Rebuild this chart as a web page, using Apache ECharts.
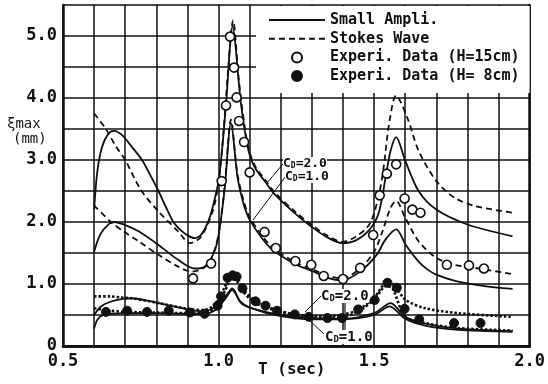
<!DOCTYPE html>
<html>
<head>
<meta charset="utf-8">
<script src="https://cdn.jsdelivr.net/npm/echarts@6/dist/echarts.min.js"></script>
<style>
  html, body { margin: 0; padding: 0; background: #fff; }
  #chart { width: 548px; height: 384px; }
</style>
</head>
<body>
<div id="chart"></div>
<script>
// Wave period T (sec) vs. maximum response xi_max (mm)

// H = 15 cm, C_D = 1.0
const smallH15Cd1 = [[0.600,2.20],[0.610,2.80],[0.625,3.20],[0.645,3.42],[0.664,3.47],[0.690,3.40],[0.720,3.22],[0.754,3.00],[0.780,2.76],[0.807,2.50],[0.830,2.25],[0.855,2.00],[0.880,1.86],[0.902,1.78],[0.922,1.74],[0.945,1.80],[0.970,2.05],[0.990,2.42],[1.003,2.75],[1.024,3.90],[1.045,5.15],[1.071,3.95],[1.085,3.45],[1.100,3.08],[1.120,2.85],[1.150,2.65],[1.180,2.45],[1.250,2.12],[1.300,1.92],[1.350,1.75],[1.397,1.66],[1.440,1.70],[1.486,1.88],[1.515,2.15],[1.537,2.72],[1.553,3.15],[1.571,3.37],[1.600,2.99],[1.643,2.50],[1.700,2.20],[1.800,1.96],[1.945,1.77]];
const stokesH15Cd1 = [[0.600,3.75],[0.638,3.50],[0.670,3.22],[0.700,3.00],[0.750,2.52],[0.807,2.17],[0.870,1.85],[0.908,1.66],[0.945,1.77],[0.987,2.28],[1.010,3.10],[1.030,4.40],[1.047,5.25],[1.065,4.30],[1.085,3.50],[1.100,3.12],[1.120,2.88],[1.150,2.68],[1.180,2.48],[1.250,2.15],[1.300,1.95],[1.350,1.78],[1.397,1.68],[1.440,1.76],[1.486,1.97],[1.516,2.45],[1.532,2.93],[1.548,3.58],[1.571,4.04],[1.606,3.69],[1.643,3.15],[1.700,2.66],[1.759,2.39],[1.823,2.26],[1.945,2.15]];

// H = 15 cm, C_D = 2.0
const smallH15Cd2 = [[0.600,1.52],[0.620,1.80],[0.648,1.97],[0.665,2.00],[0.700,1.95],[0.743,1.85],[0.807,1.63],[0.870,1.39],[0.923,1.25],[0.955,1.28],[0.980,1.45],[0.997,1.70],[1.019,2.50],[1.040,3.60],[1.061,2.72],[1.080,2.30],[1.103,2.01],[1.167,1.58],[1.251,1.31],[1.306,1.20],[1.350,1.10],[1.397,1.06],[1.455,1.20],[1.508,1.47],[1.537,1.72],[1.571,1.88],[1.603,1.62],[1.643,1.36],[1.670,1.24],[1.700,1.15],[1.760,1.05],[1.850,0.97],[1.945,0.92]];
const stokesH15Cd2 = [[0.600,2.27],[0.654,2.00],[0.700,1.83],[0.743,1.69],[0.807,1.47],[0.870,1.28],[0.913,1.20],[0.950,1.25],[0.976,1.40],[1.000,1.80],[1.020,2.60],[1.040,3.65],[1.060,2.80],[1.080,2.35],[1.103,2.05],[1.167,1.62],[1.251,1.34],[1.306,1.23],[1.350,1.13],[1.397,1.09],[1.455,1.25],[1.500,1.52],[1.527,1.85],[1.553,2.23],[1.571,2.34],[1.600,2.07],[1.643,1.69],[1.700,1.42],[1.759,1.31],[1.823,1.26],[1.945,1.16]];

// H = 8 cm
const smallH8Cd1 = [[0.600,0.50],[0.620,0.63],[0.650,0.71],[0.690,0.76],[0.720,0.77],[0.800,0.70],[0.900,0.59],[0.950,0.56],[0.990,0.63],[1.020,0.78],[1.044,0.93],[1.071,0.70],[1.100,0.62],[1.190,0.51],[1.300,0.45],[1.400,0.44],[1.500,0.53],[1.553,0.69],[1.600,0.47],[1.664,0.36],[1.770,0.28],[1.945,0.24]];
const stokesH8Cd1 = [[0.600,0.80],[0.650,0.80],[0.690,0.78],[0.720,0.77],[0.800,0.70],[0.900,0.60],[0.950,0.58],[0.990,0.68],[1.020,0.95],[1.040,1.15],[1.060,1.10],[1.077,0.93],[1.119,0.72],[1.156,0.64],[1.193,0.57],[1.250,0.51],[1.310,0.48],[1.390,0.50],[1.447,0.58],[1.500,0.78],[1.543,1.03],[1.565,0.98],[1.600,0.75],[1.664,0.61],[1.770,0.53],[1.945,0.47]];
const smallH8Cd2 = [[0.600,0.28],[0.610,0.42],[0.630,0.50],[0.700,0.53],[0.800,0.53],[0.900,0.52],[0.950,0.52],[0.990,0.58],[1.020,0.75],[1.044,0.90],[1.070,0.72],[1.100,0.62],[1.200,0.48],[1.300,0.43],[1.400,0.43],[1.500,0.50],[1.550,0.64],[1.600,0.44],[1.664,0.33],[1.770,0.26],[1.945,0.23]];
const stokesH8Cd2 = [[0.600,0.61],[0.650,0.57],[0.700,0.55],[0.800,0.54],[0.900,0.53],[0.950,0.53],[0.990,0.62],[1.020,0.88],[1.040,1.08],[1.060,1.04],[1.080,0.87],[1.120,0.69],[1.160,0.61],[1.200,0.55],[1.250,0.50],[1.300,0.47],[1.400,0.47],[1.450,0.56],[1.500,0.75],[1.540,0.97],[1.560,0.92],[1.600,0.47],[1.664,0.37],[1.770,0.29],[1.945,0.25]];

// Measurements
const experH15 = [[0.918,1.09],[0.976,1.33],[1.010,2.66],[1.024,3.88],[1.037,4.99],[1.050,4.49],[1.058,4.01],[1.066,3.63],[1.082,3.29],[1.100,2.80],[1.148,1.84],[1.184,1.58],[1.247,1.37],[1.298,1.31],[1.338,1.13],[1.400,1.08],[1.455,1.26],[1.497,1.79],[1.518,2.43],[1.541,2.78],[1.571,2.93],[1.598,2.38],[1.623,2.20],[1.649,2.15],[1.734,1.31],[1.805,1.30],[1.853,1.25]];
const experH8 = [[0.638,0.55],[0.706,0.57],[0.770,0.55],[0.840,0.57],[0.908,0.54],[0.955,0.52],[0.997,0.65],[1.008,0.80],[1.029,1.10],[1.045,1.14],[1.058,1.12],[1.077,0.93],[1.119,0.72],[1.151,0.65],[1.188,0.57],[1.245,0.51],[1.290,0.47],[1.350,0.45],[1.397,0.45],[1.449,0.59],[1.502,0.74],[1.543,1.02],[1.573,0.94],[1.598,0.60],[1.645,0.43],[1.757,0.37],[1.842,0.37]];

const legendNames = ['Small Ampli.', 'Stokes Wave', 'Experi. Data (H=15cm)', 'Experi. Data (H= 8cm)'];
const xTickLabels = [0.5, 1.0, 1.5, 2.0];
const yTickLabels = [0, 1, 2, 3, 4, 5];

const INK = '#111';
const MONO = '"DejaVu Sans Mono", "Liberation Mono", monospace';

function near(a, b) { return Math.abs(a - b) < 1e-6; }

function solid(data) {
  return { type: 'line', name: legendNames[0], data: data, symbol: 'none', showSymbol: false,
    smooth: 0.3, z: 3, color: INK, itemStyle: { color: INK },
    lineStyle: { color: INK, width: 1.8, type: 'solid' } };
}
function dashed(data, bold) {
  return { type: 'line', name: legendNames[1], data: data, symbol: 'none', showSymbol: false,
    smooth: 0.3, z: 3, color: INK, itemStyle: { color: INK },
    lineStyle: { color: INK, width: bold ? 2.6 : 1.8, type: bold ? [2.5, 2] : [6, 4] } };
}

const chart = echarts.init(document.getElementById('chart'), null, { renderer: 'canvas' });

const axisCommon = {
  type: 'value',
  axisTick: { show: false },
  axisLine: { show: true, lineStyle: { color: INK, width: 2.5 } }
};

const richCd = function (size, sub) {
  return {
    c: { font: 'bold ' + size + 'px ' + MONO, fill: INK },
    d: { font: 'bold ' + sub + 'px ' + MONO, fill: INK, verticalAlign: 'bottom' }
  };
};

chart.setOption({
  animation: false,
  backgroundColor: '#fff',
  grid: { left: 63, right: 11, top: 5, bottom: 38 },
  xAxis: [
    Object.assign({}, axisCommon, {
      min: 0.5, max: 2.0, interval: 0.1,
      splitLine: { show: true, lineStyle: { color: INK, width: 1.5 } },
      axisLabel: {
        margin: 7, fontFamily: MONO, fontSize: 17, fontWeight: 'bold', color: INK,
        formatter: function (v) {
          return xTickLabels.some(function (t) { return near(t, v); }) ? v.toFixed(1) : '';
        }
      }
    }),
    Object.assign({}, axisCommon, {
      position: 'top', min: 0.5, max: 2.0, interval: 0.1,
      splitLine: { show: false }, axisLabel: { show: false }
    })
  ],
  yAxis: [
    Object.assign({}, axisCommon, {
      min: 0, max: 5.5, interval: 0.5,
      splitLine: { show: true, lineStyle: { color: INK, width: 1.5 } },
      axisLabel: {
        margin: 6, fontFamily: MONO, fontSize: 17, fontWeight: 'bold', color: INK,
        formatter: function (v) {
          if (!yTickLabels.some(function (t) { return near(t, v); })) return '';
          return near(v, 0) ? '0' : v.toFixed(1);
        }
      }
    }),
    Object.assign({}, axisCommon, {
      position: 'right', min: 0, max: 5.5, interval: 0.5,
      splitLine: { show: false }, axisLabel: { show: false }
    })
  ],
  legend: {
    orient: 'vertical', left: 256, top: 6,
    backgroundColor: '#fff',
    padding: [6, 10, 9, 12],
    itemWidth: 56, itemHeight: 10, itemGap: 2.7, itemTextGap: 14,
    selectedMode: false,
    textStyle: { fontFamily: MONO, fontSize: 15, fontWeight: 'bold', color: INK, lineHeight: 16 },
    data: [
      { name: legendNames[0], itemStyle: { opacity: 0 } },
      { name: legendNames[1], itemStyle: { opacity: 0 } },
      { name: legendNames[2] },
      { name: legendNames[3] }
    ]
  },
  series: [
    solid(smallH15Cd1),
    dashed(stokesH15Cd1, false),
    solid(smallH15Cd2),
    dashed(stokesH15Cd2, false),
    solid(smallH8Cd1),
    dashed(stokesH8Cd1, true),
    solid(smallH8Cd2),
    dashed(stokesH8Cd2, true),
    {
      type: 'scatter', name: legendNames[2], data: experH15, symbol: 'circle', symbolSize: 9, z: 5,
      itemStyle: { color: '#fff', borderColor: INK, borderWidth: 1.6, opacity: 1 }
    },
    {
      type: 'scatter', name: legendNames[3], data: experH8, symbol: 'circle', symbolSize: 9, z: 5,
      itemStyle: { color: INK, borderColor: INK, borderWidth: 1, opacity: 1 }
    }
  ],
  graphic: [
    // axis titles
    { type: 'text', left: 7, top: 117, z: 10,
      style: { text: 'ξmax', font: '14px ' + MONO, fill: INK } },
    { type: 'text', left: 13, top: 132, z: 10,
      style: { text: '(mm)', font: '14px ' + MONO, fill: INK } },
    { type: 'text', left: 258, top: 362, z: 10,
      style: { text: 'T (sec)', font: 'bold 16px ' + MONO, fill: INK } },

    // drag-coefficient annotations, H = 15 cm
    { type: 'text', left: 283, top: 157, z: 10,
      style: { text: '{c|C}{d|D}{c|=2.0}', fill: INK, backgroundColor: '#fff', rich: richCd(13, 8) } },
    { type: 'text', left: 285, top: 170, z: 10,
      style: { text: '{c|C}{d|D}{c|=1.0}', fill: INK, backgroundColor: '#fff', rich: richCd(13, 8) } },
    { type: 'line', z: 9, shape: { x1: 283, y1: 164, x2: 266, y2: 184 }, style: { stroke: INK, lineWidth: 1 } },
    { type: 'line', z: 9, shape: { x1: 286, y1: 176, x2: 253, y2: 220 }, style: { stroke: INK, lineWidth: 1 } },

    // drag-coefficient annotations, H = 8 cm
    { type: 'text', left: 321, top: 289, z: 10,
      style: { text: '{c|C}{d|D}{c|=2.0}', fill: INK, backgroundColor: '#fff', rich: richCd(14, 9) } },
    { type: 'text', left: 325, top: 330, z: 10,
      style: { text: '{c|C}{d|D}{c|=1.0}', fill: INK, backgroundColor: '#fff', rich: richCd(14, 9) } },
    { type: 'line', z: 9, shape: { x1: 321, y1: 296, x2: 305, y2: 312 }, style: { stroke: INK, lineWidth: 1 } },
    { type: 'line', z: 9, shape: { x1: 324, y1: 334, x2: 309, y2: 320 }, style: { stroke: INK, lineWidth: 1 } },
    { type: 'line', z: 9, shape: { x1: 345, y1: 303, x2: 345, y2: 330 }, style: { stroke: INK, lineWidth: 1.2 } }
  ]
});
</script>
</body>
</html>
